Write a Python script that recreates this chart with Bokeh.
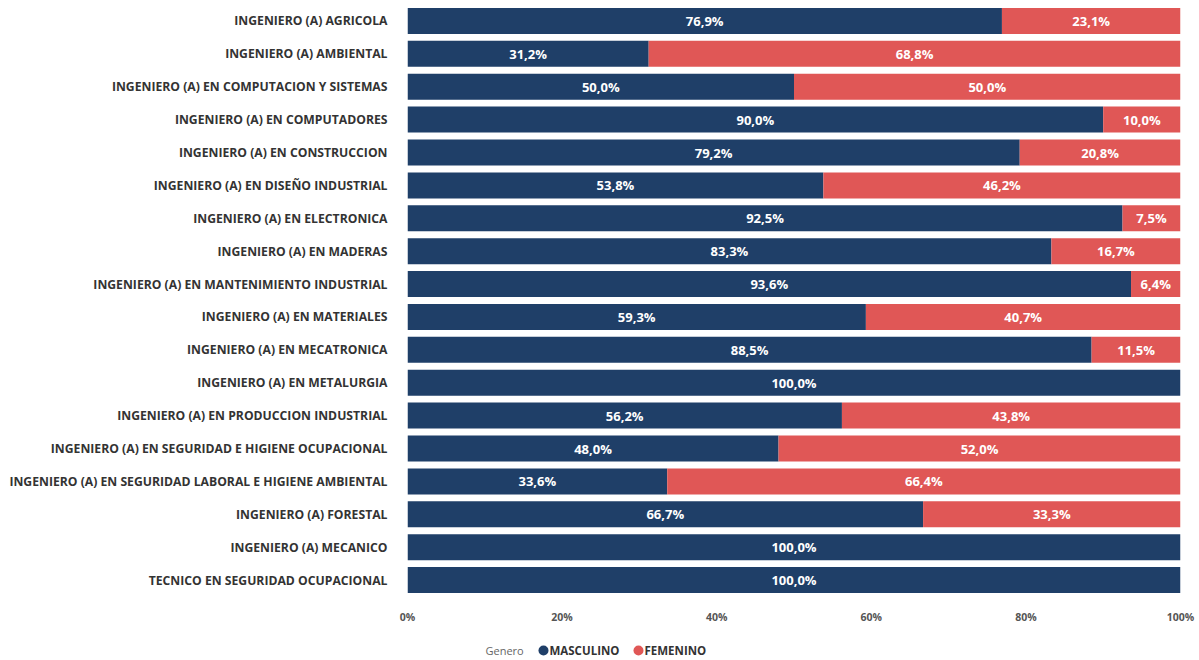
from bokeh.plotting import figure
from bokeh.layouts import column
from bokeh.models import FactorRange, Range1d, FixedTicker, ColumnDataSource
from bokeh.core.properties import value
from bokeh.embed import file_html
from bokeh.resources import INLINE

categories = [
    "INGENIERO (A) AGRICOLA",
    "INGENIERO (A) AMBIENTAL",
    "INGENIERO (A) EN COMPUTACION Y SISTEMAS",
    "INGENIERO (A) EN COMPUTADORES",
    "INGENIERO (A) EN CONSTRUCCION",
    "INGENIERO (A) EN DISEÑO INDUSTRIAL",
    "INGENIERO (A) EN ELECTRONICA",
    "INGENIERO (A) EN MADERAS",
    "INGENIERO (A) EN MANTENIMIENTO INDUSTRIAL",
    "INGENIERO (A) EN MATERIALES",
    "INGENIERO (A) EN MECATRONICA",
    "INGENIERO (A) EN METALURGIA",
    "INGENIERO (A) EN PRODUCCION INDUSTRIAL",
    "INGENIERO (A) EN SEGURIDAD E HIGIENE OCUPACIONAL",
    "INGENIERO (A) EN SEGURIDAD LABORAL E HIGIENE AMBIENTAL",
    "INGENIERO (A) FORESTAL",
    "INGENIERO (A) MECANICO",
    "TECNICO EN SEGURIDAD OCUPACIONAL",
]
masculino = [76.9, 31.2, 50.0, 90.0, 79.2, 53.8, 92.5, 83.3, 93.6, 59.3, 88.5, 100.0, 56.2, 48.0, 33.6, 66.7, 100.0, 100.0]
femenino = [23.1, 68.8, 50.0, 10.0, 20.8, 46.2, 7.5, 16.7, 6.4, 40.7, 11.5, 0.0, 43.8, 52.0, 66.4, 33.3, 0.0, 0.0]
x_ticks = [0, 20, 40, 60, 80, 100]
x_tick_labels = ["0%", "20%", "40%", "60%", "80%", "100%"]
legend_title = "Genero"
series_names = ["MASCULINO", "FEMENINO"]

NAVY = "#1F3F68"
RED = "#E05756"
COLORS = [NAVY, RED]

FRAME_L = 407
FRAME_R = 1180

def fmt(v):
    return ("%.1f" % v).replace(".", ",") + "%"

m_left = [0.0] * len(categories)
m_right = masculino
f_left = masculino
f_right = [m + f for m, f in zip(masculino, femenino)]

src = ColumnDataSource(dict(
    cat=categories, m_left=m_left, m_right=m_right, f_left=f_left, f_right=f_right,
    m_mid=[(a + b) / 2 for a, b in zip(m_left, m_right)],
    f_mid=[(a + b) / 2 for a, b in zip(f_left, f_right)],
    m_lab=[fmt(v) for v in masculino],
    f_lab=[fmt(v) if v > 0 else "" for v in femenino],
))

p = figure(width=1199, height=636, output_backend="svg", toolbar_location=None,
           y_range=FactorRange(factors=list(reversed(categories)), range_padding=0.0),
           x_range=Range1d(0, 100),
           min_border_left=FRAME_L, min_border_right=1199 - FRAME_R, min_border_top=4, min_border_bottom=40)
p.outline_line_color = None
p.grid.visible = False

p.hbar(y="cat", left="m_left", right="m_right", height=0.79, source=src,
       fill_color=NAVY, line_color=None)
p.hbar(y="cat", left="f_left", right="f_right", height=0.79, source=src,
       fill_color=RED, line_color=None)

for xcol, tcol in (("m_mid", "m_lab"), ("f_mid", "f_lab")):
    p.text(x=xcol, y="cat", text=tcol, source=src, text_align="center",
           text_baseline="middle", text_color="white", text_font=value("Open Sans"),
           text_font_style="bold", text_font_size="13px")

# y axis
p.yaxis.axis_line_color = None
p.yaxis.major_tick_line_color = None
p.yaxis.minor_tick_line_color = None
p.yaxis.major_label_standoff = 14
p.yaxis.major_label_text_font = "Open Sans"
p.yaxis.major_label_text_font_style = "bold"
p.yaxis.major_label_text_font_size = "12.2px"
p.yaxis.major_label_text_color = "#333333"

# x axis
p.xaxis.ticker = FixedTicker(ticks=x_ticks)
p.xaxis.major_label_overrides = {t: l for t, l in zip(x_ticks, x_tick_labels)}
p.xaxis.axis_line_color = None
p.xaxis.major_tick_line_color = None
p.xaxis.minor_tick_line_color = None
p.xaxis.major_label_standoff = 7
p.xaxis.major_label_text_font = "Open Sans"
p.xaxis.major_label_text_font_style = "bold"
p.xaxis.major_label_text_font_size = "10.5px"
p.xaxis.major_label_text_color = "#555555"

# legend strip (frame aligned with the main frame; x in page pixels)
lg = figure(width=1199, height=24, output_backend="svg", toolbar_location=None,
            x_range=Range1d(FRAME_L, FRAME_R), y_range=Range1d(0, 24),
            min_border_left=FRAME_L, min_border_right=1199 - FRAME_R,
            min_border_top=0, min_border_bottom=0)
lg.axis.visible = False
lg.grid.visible = False
lg.outline_line_color = None
lg.text(x=[485], y=[10], text=[legend_title], text_align="left", text_baseline="middle",
        text_font=value("Open Sans"), text_font_size="11px", text_color="#666666")
lg.scatter(x=[543, 638], y=[10, 10], size=10, marker="circle", fill_color=COLORS, line_color=None)
lg.text(x=[549, 644], y=[10, 10], text=series_names, text_align="left", text_baseline="middle",
        text_font=value("Open Sans"), text_font_size="11.5px", text_font_style="bold",
        text_color="#333333")

layout = column(p, lg, spacing=0)
open("out.html", "w").write(file_html(layout, INLINE))
